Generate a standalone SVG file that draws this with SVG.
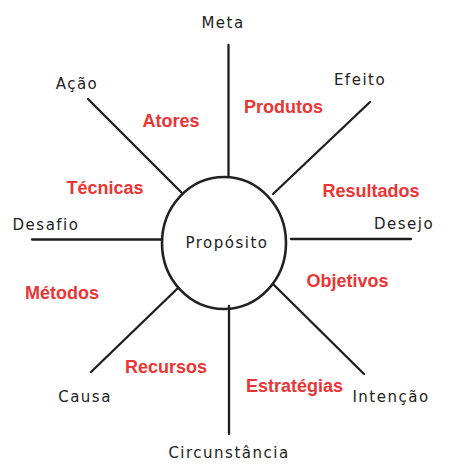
<svg xmlns="http://www.w3.org/2000/svg" width="452" height="472" viewBox="0 0 452 472">
<style>
.line{stroke:#1e1e1e;stroke-width:2.3;stroke-linecap:round;fill:none}
.hand{font-family:"DejaVu Sans","Noto Sans",sans-serif;font-size:15px;letter-spacing:1.5px;fill:#222;text-anchor:middle}
.red{font-family:"Liberation Sans",Arial,sans-serif;font-size:18px;font-weight:bold;fill:#ec3434;text-anchor:middle}
</style>
<rect width="452" height="472" fill="#fff"/>
<g id="connectors">
<line class="line" x1="228.5" y1="45" x2="228.5" y2="176"/>
<line class="line" x1="229" y1="306" x2="229" y2="434"/>
<line class="line" x1="32" y1="239.5" x2="162" y2="239.5"/>
<line class="line" x1="291" y1="239" x2="411" y2="239"/>
<line class="line" x1="88" y1="99" x2="182" y2="193"/>
<line class="line" x1="370" y1="102" x2="273" y2="194"/>
<line class="line" x1="91" y1="372" x2="178" y2="288"/>
<line class="line" x1="273" y1="284" x2="364" y2="374"/>
</g>
<g id="proposito">
<ellipse cx="224" cy="243" rx="62" ry="66" fill="none" stroke="#222" stroke-width="2.6"/>
<text class="hand" x="227" y="248">Propósito</text>
</g>
<g id="meta"><text class="hand" x="223" y="28">Meta</text></g>
<g id="acao"><text class="hand" x="77" y="89">Ação</text></g>
<g id="efeito"><text class="hand" x="360" y="85">Efeito</text></g>
<g id="desafio"><text class="hand" x="46" y="230">Desafio</text></g>
<g id="desejo"><text class="hand" x="404" y="229">Desejo</text></g>
<g id="causa"><text class="hand" x="85" y="402">Causa</text></g>
<g id="intencao"><text class="hand" x="391" y="402">Intenção</text></g>
<g id="circunstancia"><text class="hand" x="229" y="458">Circunstância</text></g>
<g id="atores"><text class="red" x="171" y="127">Atores</text></g>
<g id="tecnicas"><text class="red" x="105" y="194">Técnicas</text></g>
<g id="produtos"><text class="red" x="283.5" y="113">Produtos</text></g>
<g id="resultados"><text class="red" x="371" y="197">Resultados</text></g>
<g id="metodos"><text class="red" x="62" y="299">Métodos</text></g>
<g id="recursos"><text class="red" x="166" y="373">Recursos</text></g>
<g id="objetivos"><text class="red" x="347.5" y="287">Objetivos</text></g>
<g id="estrategias"><text class="red" x="294.5" y="392">Estratégias</text></g>
</svg>
